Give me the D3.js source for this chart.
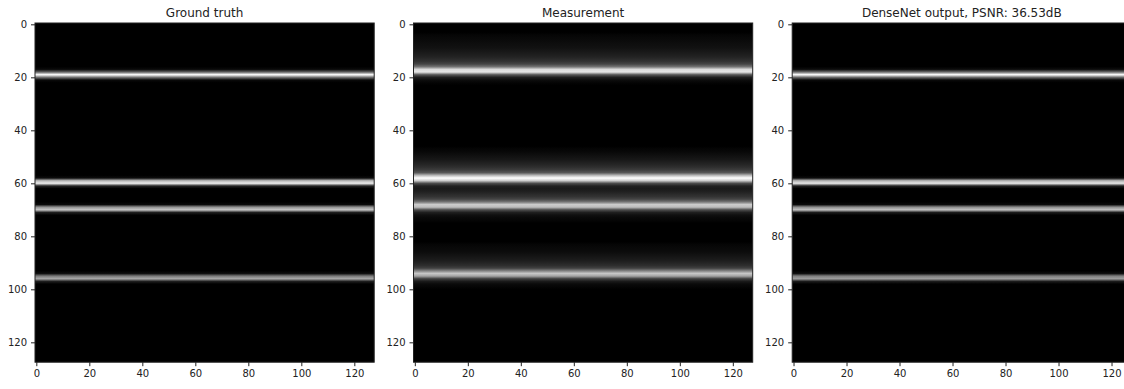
<!DOCTYPE html>
<html>
<head>
<meta charset="utf-8">
<script src="https://cdn.jsdelivr.net/npm/d3@7"></script>
<style>
  body { margin: 0; background: #fff; }
  svg { display: block; }
  .tick text { font-family: "DejaVu Sans", sans-serif; font-size: 10px; fill: #222; }
  .tick line { stroke: #222; }
  .title { font-family: "DejaVu Sans", sans-serif; font-size: 12px; fill: #222; }
</style>
</head>
<body>
<div id="chart"></div>
<script>
// image size (rows x cols)
const nRows = 128;
const nCols = 128;

const titles = ['Ground truth', 'Measurement', 'DenseNet output, PSNR: 36.53dB'];
const xTicks = [0, 20, 40, 60, 80, 100, 120];
const yTicks = [0, 20, 40, 60, 80, 100, 120];

// each image is constant across columns, so only a row profile is kept: [row, intensity]
// rows not listed are black (0)
const truthRows = [
    [17, 0.04], [18, 0.38], [19, 1.0], [20, 0.45], [21, 0.04],
    [58, 0.05], [59, 0.72], [60, 0.92], [61, 0.14],
    [68, 0.04], [69, 0.58], [70, 0.78], [71, 0.12],
    [94, 0.05], [95, 0.48], [96, 0.66], [97, 0.12]
];

const measurementRows = [
    [4, 0.02], [5, 0.03], [6, 0.04], [7, 0.05], [8, 0.06], [9, 0.07], [10, 0.09],
    [11, 0.11], [12, 0.13], [13, 0.16], [14, 0.2], [15, 0.27], [16, 0.45],
    [17, 0.86], [18, 0.9], [19, 0.35], [20, 0.12], [21, 0.05], [22, 0.02],
    [47, 0.02], [48, 0.03], [49, 0.05], [50, 0.07], [51, 0.09], [52, 0.12],
    [53, 0.15], [54, 0.19], [55, 0.24], [56, 0.34], [57, 0.72], [58, 1.0],
    [59, 0.8], [60, 0.3], [61, 0.13], [62, 0.1], [63, 0.12],
    [64, 0.16], [65, 0.2], [66, 0.27], [67, 0.46], [68, 0.8], [69, 0.74],
    [70, 0.3], [71, 0.12], [72, 0.06], [73, 0.03], [74, 0.02],
    [83, 0.02], [84, 0.03], [85, 0.04], [86, 0.05], [87, 0.07], [88, 0.09],
    [89, 0.11], [90, 0.14], [91, 0.18], [92, 0.25], [93, 0.5], [94, 0.78],
    [95, 0.64], [96, 0.25], [97, 0.1], [98, 0.04], [99, 0.02]
];

const outputRows = [
    [17, 0.05], [18, 0.42], [19, 1.0], [20, 0.42], [21, 0.04],
    [58, 0.05], [59, 0.7], [60, 0.9], [61, 0.13],
    [68, 0.04], [69, 0.56], [70, 0.76], [71, 0.11],
    [94, 0.05], [95, 0.5], [96, 0.62], [97, 0.11]
];

const panels = [truthRows, measurementRows, outputRows];

const config = {
    width: 1124,
    height: 389,
    lefts: [35, 413.5, 792.2],
    top: 23,
    size: 339.2
};

const svg = d3.select('#chart')
    .append('svg')
    .attr('width', config.width)
    .attr('height', config.height);

const defs = svg.append('defs');

panels.forEach((rows, i) => {
    const left = config.lefts[i];

    const xScale = d3.scaleLinear().domain([-0.5, nCols - 0.5]).range([0, config.size]);
    const yScale = d3.scaleLinear().domain([-0.5, nRows - 0.5]).range([0, config.size]);

    // full profile, black where not given
    const profile = new Array(nRows).fill(0);
    rows.forEach(([r, v]) => { profile[r] = v; });
    const vmax = d3.max(profile);
    const color = v => d3.rgb(255 * v / vmax, 255 * v / vmax, 255 * v / vmax);

    const offset = d3.scaleLinear().domain([-0.5, nRows - 0.5]).range([0, 1]);
    const grad = defs.append('linearGradient')
        .attr('id', `grad${i}`)
        .attr('x1', 0).attr('x2', 0)
        .attr('y1', 0).attr('y2', 1);
    grad.selectAll('stop')
        .data(profile)
        .enter()
        .append('stop')
        .attr('offset', (d, r) => offset(r))
        .attr('stop-color', d => color(d));

    const g = svg.append('g')
        .attr('transform', `translate(${left},${config.top})`);

    g.append('rect')
        .attr('x', xScale(-0.5))
        .attr('y', yScale(-0.5))
        .attr('width', xScale(nCols - 0.5) - xScale(-0.5))
        .attr('height', yScale(nRows - 0.5) - yScale(-0.5))
        .attr('fill', `url(#grad${i})`);

    g.append('rect')
        .attr('width', config.size)
        .attr('height', config.size)
        .attr('fill', 'none')
        .attr('stroke', '#222')
        .attr('stroke-width', 1);

    const xAxis = g.append('g')
        .attr('transform', `translate(0, ${config.size})`)
        .call(d3.axisBottom(xScale).tickValues(xTicks).tickSize(4).tickPadding(4).tickSizeOuter(0));
    const yAxis = g.append('g')
        .call(d3.axisLeft(yScale).tickValues(yTicks).tickSize(4).tickPadding(4).tickSizeOuter(0));
    xAxis.select('.domain').remove();
    yAxis.select('.domain').remove();

    g.append('text')
        .attr('class', 'title')
        .attr('x', config.size / 2)
        .attr('y', -6)
        .attr('text-anchor', 'middle')
        .text(titles[i]);
});
</script>
</body>
</html>
